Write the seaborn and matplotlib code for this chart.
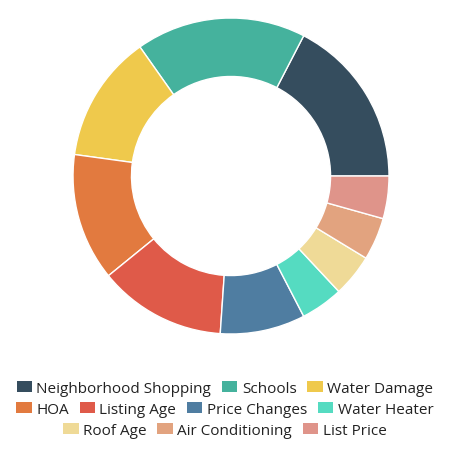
import matplotlib
matplotlib.use("Agg")
import matplotlib.pyplot as plt
import seaborn as sns

labels = ['Neighborhood Shopping', 'Schools', 'Water Damage', 'HOA', 'Listing Age',
          'Price Changes', 'Water Heater', 'Roof Age', 'Air Conditioning', 'List Price']
values = [4, 4, 3, 3, 3, 2, 1, 1, 1, 1]
colors = ['#354d5e', '#45b29d', '#efc94c', '#e27a3f', '#df5a49',
          '#4f7da1', '#55dbc1', '#efda97', '#e2a37f', '#df948a']
legend_rows = [[0, 1, 2], [3, 4, 5, 6], [7, 8, 9]]

sns.set_theme(style="white")
plt.rcParams['font.family'] = ['Open Sans', 'DejaVu Sans']

fig = plt.figure(figsize=(4.58, 4.64), dpi=100)
ax = fig.add_axes([0.1594, 0.278, 0.69, 0.681])
pal = sns.color_palette(colors)
wedges, _ = ax.pie(values, colors=pal, startangle=0, counterclock=True, radius=1,
                   wedgeprops=dict(width=0.37, edgecolor='white', linewidth=1))
ax.set_xlim(-1, 1)
ax.set_ylim(-1, 1)
ax.set_aspect('equal')
ax.axis('off')

row_y = [0.161, 0.115, 0.070]
for row, y in zip(legend_rows, row_y):
    leg = fig.legend([wedges[i] for i in row], [labels[i] for i in row],
                     loc='center', bbox_to_anchor=(0.491, y), ncol=len(row),
                     frameon=False, fontsize=11, handlelength=1.0, handleheight=0.75,
                     handletextpad=0.3, columnspacing=0.7, borderpad=0, borderaxespad=0)
    for t in leg.get_texts():
        t.set_color('#222222')
    for p in leg.get_patches():
        p.set_edgecolor('none')

fig.savefig('out.png', dpi=100)
